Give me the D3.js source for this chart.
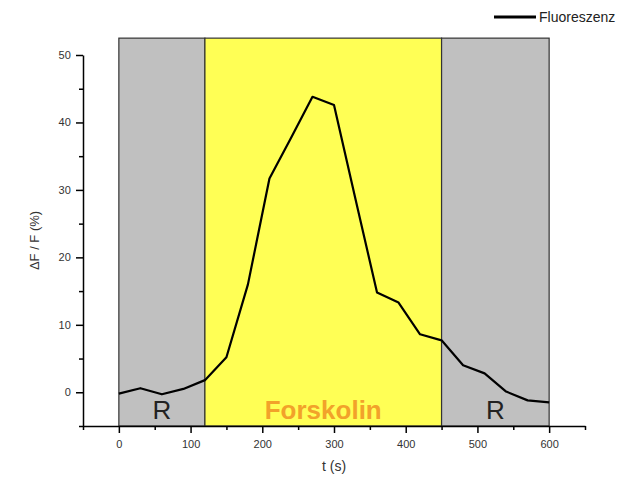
<!DOCTYPE html>
<meta charset="utf-8">
<style>
body {
  font-family: Arial, "Liberation Sans", Helvetica, sans-serif;
  margin: 0;
  background: #fff;
}
.axis text { font-size: 11px; fill: #333; }
.axis path, .axis line { stroke: #000; stroke-width: 1.5px; }
</style>
<body>
<script src="https://d3js.org/d3.v7.min.js"></script>
<script>
// time (s) and fluorescence change (%)
var times = [0, 30, 60, 90, 120, 150, 180, 210, 240, 270, 300, 330, 360, 390, 420, 450, 480, 510, 540, 570, 600];
var values = [-0.2, 0.6, -0.3, 0.5, 1.8, 5.2, 16.0, 31.7, 37.7, 43.8, 42.6, 28.6, 14.8, 13.3, 8.6, 7.7, 4.0, 2.8, 0.1, -1.2, -1.5];

// phases
var phaseStart = [0, 120, 450];
var phaseEnd = [120, 450, 600];
var phaseLabel = ["R", "Forskolin", "R"];
var phaseFill = ["#c0c0c0", "#ffff55", "#c0c0c0"];
var phaseText = ["#222", "#f2a22a", "#222"];

var xTicks = [0, 100, 200, 300, 400, 500, 600];
var yTicks = [0, 10, 20, 30, 40, 50];

var width = 641, height = 483;
var svg = d3.select("body").append("svg").attr("width", width).attr("height", height);

var x = d3.scaleLinear().domain([-50, 650]).range([83, 585]);
var y = d3.scaleLinear().domain([-5, 50]).range([426, 55]);

// shaded regions
var ph = svg.append("g").selectAll("g").data(phaseStart).enter().append("g");
ph.append("rect")
    .attr("x", function(d, i) { return x(d); })
    .attr("width", function(d, i) { return x(phaseEnd[i]) - x(d); })
    .attr("y", y(52.5))
    .attr("height", y(-5) - y(52.5))
    .attr("fill", function(d, i) { return phaseFill[i]; })
    .attr("stroke", "#333")
    .attr("stroke-width", 1.2);
ph.append("text")
    .attr("x", function(d, i) { return (x(d) + x(phaseEnd[i])) / 2; })
    .attr("y", 419)
    .attr("text-anchor", "middle")
    .style("font-size", "26px")
    .style("font-weight", function(d, i) { return i == 1 ? "bold" : "normal"; })
    .attr("fill", function(d, i) { return phaseText[i]; })
    .text(function(d, i) { return phaseLabel[i]; });

// axes
var xAxis = svg.append("g").attr("class", "axis").attr("transform", "translate(0," + y(-5) + ")");
xAxis.call(d3.axisBottom(x).tickValues(xTicks).tickSize(7).tickSizeOuter(0));
xAxis.append("g").call(d3.axisBottom(x).tickValues(d3.range(-50, 651, 100)).tickSize(4).tickFormat(""))
    .select(".domain").remove();
xAxis.selectAll("text").attr("dy", "1.1em");

var yAxis = svg.append("g").attr("class", "axis").attr("transform", "translate(" + x(-50) + ",0)");
yAxis.call(d3.axisLeft(y).tickValues(yTicks).tickSize(7).tickSizeOuter(0));
yAxis.append("g").call(d3.axisLeft(y).tickValues(d3.range(-5, 46, 10)).tickSize(4).tickFormat(""))
    .select(".domain").remove();
yAxis.selectAll("text").attr("dx", "-0.2em");

// line
var line = d3.line()
    .x(function(d, i) { return x(times[i]); })
    .y(function(d) { return y(d); });
svg.append("path")
    .datum(values)
    .attr("d", line)
    .attr("fill", "none")
    .attr("stroke", "#000")
    .attr("stroke-width", 2.2)
    .attr("stroke-linejoin", "round");

// axis titles
svg.append("text")
    .attr("x", x(300)).attr("y", 471)
    .attr("text-anchor", "middle")
    .style("font-size", "14px").attr("fill", "#333")
    .text("t (s)");
svg.append("text")
    .attr("transform", "translate(39," + y(22.5) + ") rotate(-90)")
    .attr("text-anchor", "middle")
    .style("font-size", "13px").attr("fill", "#333")
    .text("\u0394F / F (%)");

// legend
svg.append("line")
    .attr("x1", 494).attr("x2", 536).attr("y1", 17).attr("y2", 17)
    .attr("stroke", "#000").attr("stroke-width", 3);
svg.append("text")
    .attr("x", 539).attr("y", 22)
    .style("font-size", "14px").attr("fill", "#222")
    .text("Fluoreszenz");
</script>
</body>
